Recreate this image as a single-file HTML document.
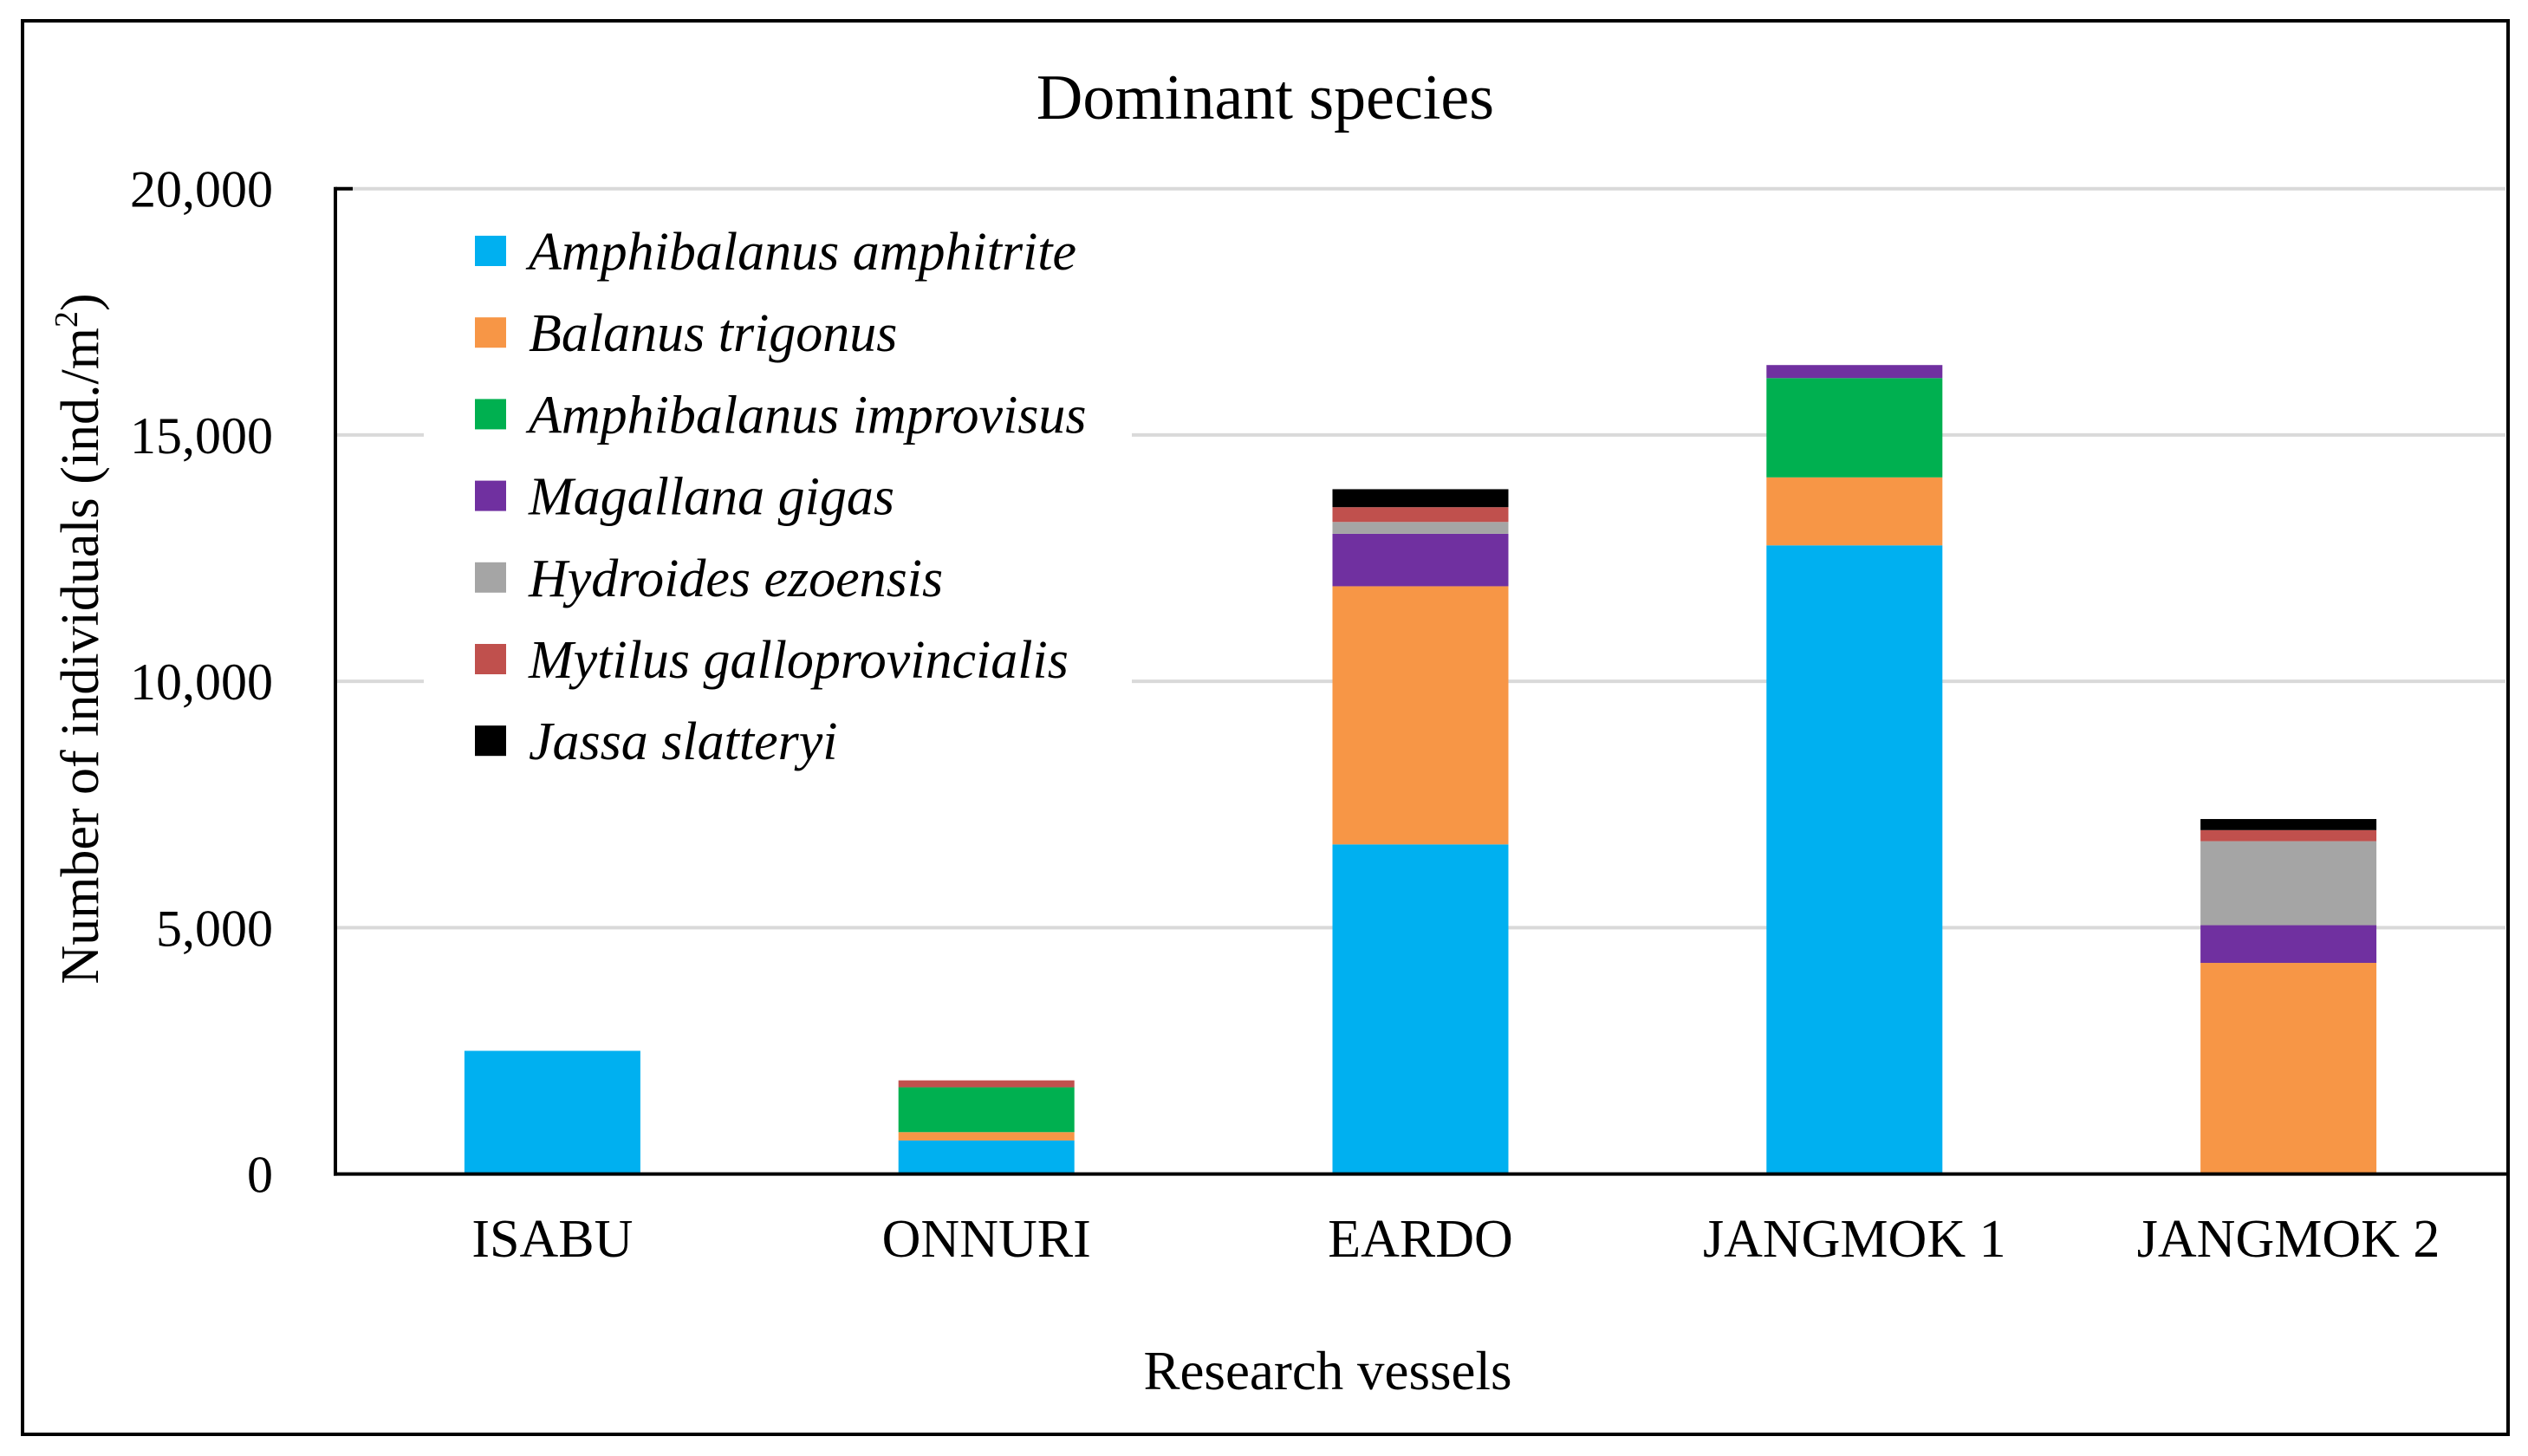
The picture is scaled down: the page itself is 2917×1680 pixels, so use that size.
<!DOCTYPE html>
<html><head><meta charset="utf-8"><style>
html,body{margin:0;padding:0;background:#fff;}
svg{display:block;}
svg text{font-family:"Liberation Serif","Times New Roman",serif;}
</style></head><body>
<svg id="chart" width="2917" height="1680" viewBox="0 0 2917 1680" xmlns="http://www.w3.org/2000/svg" font-family="Liberation Serif, serif">
<rect x="26" y="24" width="2868" height="1631" fill="#fff" stroke="#000" stroke-width="4"/>
<text x="1460" y="137" font-size="74" text-anchor="middle" font-family="Liberation Serif, serif">Dominant species</text>
<g id="grid"></g>
<g id="bars"></g>
<g id="axes"></g>
<text x="1532" y="1603" font-size="63" text-anchor="middle" font-family="Liberation Serif, serif">Research vessels</text>
<text transform="translate(113,737) rotate(-90)" font-size="62" text-anchor="middle" font-family="Liberation Serif, serif">Number of individuals (ind./m<tspan font-size="38" dy="-24">2</tspan><tspan dy="24">)</tspan></text>
<g id="legend"></g>
</svg>
<script>
const categories = ["ISABU","ONNURI","EARDO","JANGMOK 1","JANGMOK 2"];
const seriesNames = ["Amphibalanus amphitrite","Balanus trigonus","Amphibalanus improvisus","Magallana gigas","Hydroides ezoensis","Mytilus galloprovincialis","Jassa slatteryi"];
const amphitrite = [2500, 680, 6690, 12760, 0];
const trigonus = [0, 170, 5240, 1380, 4285];
const improvisus = [0, 910, 0, 2015, 0];
const gigas = [0, 0, 1065, 265, 765];
const ezoensis = [0, 0, 240, 0, 1705];
const galloprovincialis = [0, 140, 300, 0, 225];
const slatteryi = [0, 0, 365, 0, 225];
const yTicks = [0, 5000, 10000, 15000, 20000];
const yTickLabels = ["0","5,000","10,000","15,000","20,000"];

const seriesValues = [amphitrite, trigonus, improvisus, gigas, ezoensis, galloprovincialis, slatteryi];
const colors = ["#00b0f0","#f79646","#00b050","#7030a0","#a5a5a5","#c0504d","#000000"];
const NS = "http://www.w3.org/2000/svg";
const FONT = "Liberation Serif, serif";
const X0 = 387, X1 = 2891, Y0 = 1354.6, Y1 = 217.7, YMAX = 20000;
const band = (X1 - X0) / categories.length;
const barW = 203;
function y(v){ return Y0 - (v / YMAX) * (Y0 - Y1); }
function xc(i){ return X0 + band * (i + 0.5); }
function mk(tag, attrs, parent){ const e = document.createElementNS(NS, tag); for (const k in attrs) e.setAttribute(k, attrs[k]); parent.appendChild(e); return e; }

const grid = document.getElementById('grid');
yTicks.forEach((t, i) => {
  if (t > 0) {
    const l = mk('line', {x1: X0, x2: X1, y1: y(t), y2: y(t), stroke: '#d9d9d9', 'stroke-width': 4}, grid);
    
    
  }
  const tx = mk('text', {x: 315, y: y(t) + 21, 'font-size': 60, 'text-anchor': 'end', 'font-family': FONT}, grid);
  tx.textContent = yTickLabels[i];
  
  
});

const bars = document.getElementById('bars');
categories.forEach((c, i) => {
  let acc = 0;
  seriesValues.forEach((arr, s) => {
    const v = arr[i];
    if (v > 0) {
      const r = mk('rect', {x: xc(i) - barW / 2, y: y(acc + v), width: barW, height: y(acc) - y(acc + v), fill: colors[s]}, bars);
      
      
    }
    acc += v;
  });
  const t = mk('text', {x: xc(i), y: 1450, 'font-size': 62, 'text-anchor': 'middle', 'font-family': FONT}, bars);
  t.textContent = c;
  
  
});

const axes = document.getElementById('axes');
const ya = mk('line', {x1: X0, x2: X0, y1: Y1 - 2, y2: Y0 + 2, stroke: '#000', 'stroke-width': 4}, axes);


const tk = mk('line', {x1: X0, x2: X0 + 20, y1: Y1, y2: Y1, stroke: '#000', 'stroke-width': 4}, axes);


const xa = mk('line', {x1: X0 - 2, x2: 2894, y1: Y0, y2: Y0, stroke: '#000', 'stroke-width': 4}, axes);



const legend = document.getElementById('legend');
const lb = mk('rect', {x: 489, y: 235, width: 817, height: 660, fill: '#fff'}, legend);


seriesNames.forEach((n, s) => {
  const cy = 290 + s * 94.2;
  const g = mk('g', {}, legend);
  
  
  mk('rect', {x: 548, y: cy - 18, width: 36, height: 35, fill: colors[s]}, g);
  const t = mk('text', {x: 610, y: cy + 21, 'font-size': 62, 'font-style': 'italic', 'font-family': FONT}, g);
  t.textContent = n;
});
</script>
</body></html>
